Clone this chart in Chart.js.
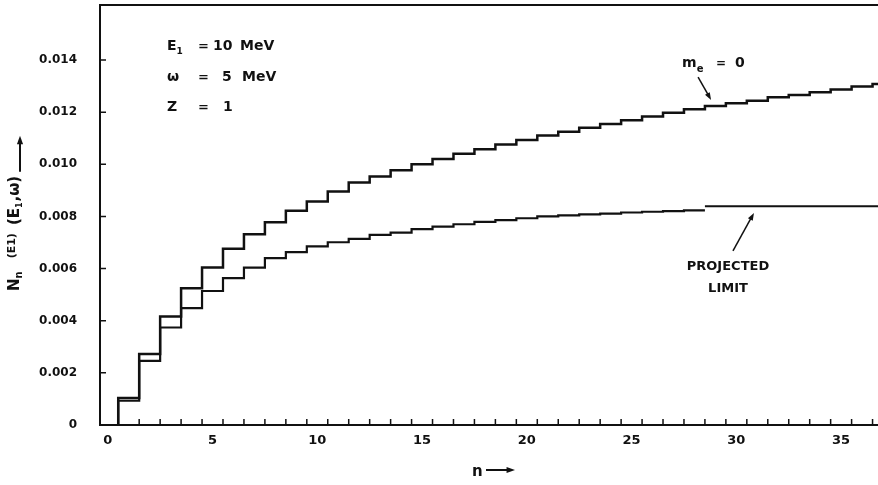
<!DOCTYPE html>
<html>
<head>
<meta charset="utf-8">
<script src="https://cdn.jsdelivr.net/npm/chart.js@4.4.7/dist/chart.umd.min.js"></script>
<style>
html,body{margin:0;padding:0;background:#fff}
canvas{display:block}
</style>
</head>
<body>
<canvas id="chart" width="878" height="485"></canvas>
<script>
// photon number n (each step spans n-0.5 .. n+0.5)
const nValues = [1,2,3,4,5,6,7,8,9,10,11,12,13,14,15,16,17,18,19,20,21,22,23,24,25,26,27,28,29,30,31,32,33,34,35,36,37];
// m_e = 0 curve
const masslessValues = [0.00104,0.00272,0.00416,0.00525,0.00604,0.00676,0.00732,0.00778,0.00822,0.00857,0.00896,0.00930,
  0.00953,0.00977,0.01000,0.01020,0.01040,0.01058,0.01076,0.01093,0.01110,0.01125,0.01140,0.01155,0.01169,0.01183,
  0.01198,0.01211,0.01224,0.01234,0.01244,0.01257,0.01266,0.01276,0.01287,0.01298,0.01308];
// finite electron mass curve (n = 1..28)
const massiveValues = [0.00093,0.00246,0.00374,0.00448,0.00514,0.00563,0.00604,0.00640,0.00663,0.00685,0.00701,0.00714,
  0.00729,0.00738,0.00751,0.00761,0.00770,0.00779,0.00786,0.00793,0.00800,0.00804,0.00808,0.00811,0.00815,0.00818,
  0.00820,0.00823];
const projectedLimit = 0.00839;
const xTickLabels = [0,5,10,15,20,25,30,35];
const yTickLabels = [0,0.002,0.004,0.006,0.008,0.010,0.012,0.014];

const INK = '#111';
const FONT = '"DejaVu Sans"';

function stepPoints(vals) {
  const pts = [{x: nValues[0] - 0.5, y: 0}];
  vals.forEach((v, i) => pts.push({x: nValues[i] - 0.5, y: v}));
  const last = vals.length - 1;
  pts.push({x: nValues[last] + 0.5, y: vals[last]});
  return pts;
}

const lastMassive = nValues[massiveValues.length - 1] + 0.5;
const limitPoints = [{x: lastMassive, y: projectedLimit}, {x: nValues[nValues.length - 1] + 0.5, y: projectedLimit}];

function arrow(ctx, x1, y1, x2, y2, head) {
  const a = Math.atan2(y2 - y1, x2 - x1);
  ctx.beginPath();
  ctx.moveTo(x1, y1);
  ctx.lineTo(x2 - Math.cos(a) * head * 0.8, y2 - Math.sin(a) * head * 0.8);
  ctx.stroke();
  ctx.beginPath();
  ctx.moveTo(x2, y2);
  ctx.lineTo(x2 - head * Math.cos(a - 0.35), y2 - head * Math.sin(a - 0.35));
  ctx.lineTo(x2 - head * Math.cos(a + 0.35), y2 - head * Math.sin(a + 0.35));
  ctx.closePath();
  ctx.fill();
}

// draw a run of text pieces along the baseline, returns end x
function runText(ctx, x, y, pieces) {
  pieces.forEach(p => {
    if (p.gap) { x += p.gap; return; }
    ctx.font = 'bold ' + p.size + 'px ' + FONT;
    ctx.fillText(p.t, x, y + (p.dy || 0));
    x += ctx.measureText(p.t).width + (p.after || 0);
  });
  return x;
}

const decorations = {
  id: 'decorations',
  afterDraw(chart) {
    const {ctx, chartArea: a, scales: {x, y}} = chart;
    const P = (n, v) => [x.getPixelForValue(n), y.getPixelForValue(v)];
    ctx.save();
    ctx.strokeStyle = INK;
    ctx.fillStyle = INK;
    ctx.lineCap = 'butt';

    // frame: left, bottom, top (right side is cropped)
    ctx.lineWidth = 2;
    ctx.beginPath();
    ctx.moveTo(a.right, a.top); ctx.lineTo(a.left, a.top);
    ctx.lineTo(a.left, a.bottom); ctx.lineTo(a.right, a.bottom);
    ctx.stroke();

    // inward tick marks
    ctx.lineWidth = 1.5;
    ctx.beginPath();
    nValues.forEach(n => {
      const px = x.getPixelForValue(n - 0.5);
      if (px > a.left + 2 && px < a.right) { ctx.moveTo(px, a.bottom); ctx.lineTo(px, a.bottom - 6); }
    });
    yTickLabels.forEach(v => {
      const py = y.getPixelForValue(v);
      if (v > 0) { ctx.moveTo(a.left, py); ctx.lineTo(a.left + 6, py); }
    });
    ctx.stroke();

    ctx.textBaseline = 'alphabetic';
    ctx.textAlign = 'left';

    // parameter block
    let [lx, ly] = P(2.83, 0.01438);
    runText(ctx, lx, ly, [{t: 'E', size: 14}, {t: '1', size: 9, dy: 4}]);
    runText(ctx, lx + 31, ly, [{t: '=', size: 13}]);
    runText(ctx, lx + 46, ly, [{t: '10', size: 14}]);
    runText(ctx, lx + 73, ly, [{t: 'MeV', size: 14}]);
    runText(ctx, lx, ly + 31, [{t: 'ω', size: 14}]);
    runText(ctx, lx + 31, ly + 31, [{t: '=', size: 13}]);
    runText(ctx, lx + 55, ly + 31, [{t: '5', size: 14}]);
    runText(ctx, lx + 75, ly + 31, [{t: 'MeV', size: 14}]);
    runText(ctx, lx, ly + 61, [{t: 'Z', size: 14}]);
    runText(ctx, lx + 31, ly + 61, [{t: '=', size: 13}]);
    runText(ctx, lx + 56, ly + 61, [{t: '1', size: 14}]);

    // m_e = 0 label with arrow
    let [mx, my] = P(27.41, 0.01373);
    runText(ctx, mx, my, [{t: 'm', size: 14}, {t: 'e', size: 10, dy: 5}]);
    runText(ctx, mx + 34, my, [{t: '=', size: 12}]);
    runText(ctx, mx + 53, my, [{t: '0', size: 14}]);
    ctx.lineWidth = 1.5;
    arrow(ctx, mx + 16, my + 10, mx + 29, my + 33, 8);

    // projected limit label with arrow
    let [qx, qy] = P(29.6, 0.00595);
    ctx.textAlign = 'center';
    ctx.font = 'bold 13px ' + FONT;
    ctx.fillText('PROJECTED', qx, qy);
    ctx.fillText('LIMIT', qx, qy + 22);
    arrow(ctx, qx + 5, qy - 19, qx + 26, qy - 57, 8);

    // x axis title
    ctx.textAlign = 'left';
    ctx.font = 'bold 15px ' + FONT;
    ctx.fillText('n', 472, 476);
    ctx.lineWidth = 2;
    arrow(ctx, 486, 470, 515, 470, 9);

    // y axis title, rotated
    ctx.save();
    ctx.translate(19, 291);
    ctx.rotate(-Math.PI / 2);
    let end = runText(ctx, 0, 0, [
      {t: 'N', size: 15, after: 0}, {t: 'n', size: 10, dy: 3}, {gap: 13},
      {t: '(E1)', size: 11, dy: -4}, {gap: 8},
      {t: '(E', size: 15}, {t: '1', size: 8, dy: 3, after: 1}, {t: ',ω)', size: 15}
    ]);
    ctx.lineWidth = 2;
    arrow(ctx, end + 4, 1, end + 40, 1, 9);
    ctx.restore();

    ctx.restore();
  }
};

new Chart(document.getElementById('chart'), {
  type: 'line',
  data: {
    datasets: [
      {label: 'm_e = 0', data: stepPoints(masslessValues), stepped: true, borderColor: INK, borderWidth: 2.5},
      {label: 'm_e', data: stepPoints(massiveValues), stepped: true, borderColor: INK, borderWidth: 2.2},
      {label: 'projected limit', data: limitPoints, borderColor: INK, borderWidth: 1.8}
    ]
  },
  options: {
    responsive: false,
    animation: false,
    layout: {padding: {top: 5, right: 0, left: 0, bottom: 0}},
    elements: {point: {radius: 0}, line: {tension: 0, fill: false}},
    plugins: {legend: {display: false}, tooltip: {enabled: false}},
    scales: {
      x: {
        type: 'linear', min: -0.37, max: 36.76,
        grid: {display: false, drawTicks: false}, border: {display: false},
        afterBuildTicks: s => { s.ticks = xTickLabels.map(v => ({value: v})); },
        afterFit: s => { s.height = 60; s.paddingLeft = 0; s.paddingRight = 0; },
        ticks: {autoSkip: false, maxRotation: 0, padding: 8, color: INK,
          font: {family: FONT, size: 13, weight: 'bold'}, callback: v => String(v)}
      },
      y: {
        min: 0, max: 0.01611,
        grid: {display: false, drawTicks: false}, border: {display: false},
        afterBuildTicks: s => { s.ticks = yTickLabels.map(v => ({value: v})); },
        afterFit: s => { s.width = 100; s.paddingTop = 0; s.paddingBottom = 0; },
        ticks: {autoSkip: false, padding: 23, color: INK,
          font: {family: FONT, size: 12, weight: 'bold'}, callback: v => v === 0 ? '0' : v.toFixed(3)}
      }
    }
  },
  plugins: [decorations]
});
</script>
</body>
</html>
